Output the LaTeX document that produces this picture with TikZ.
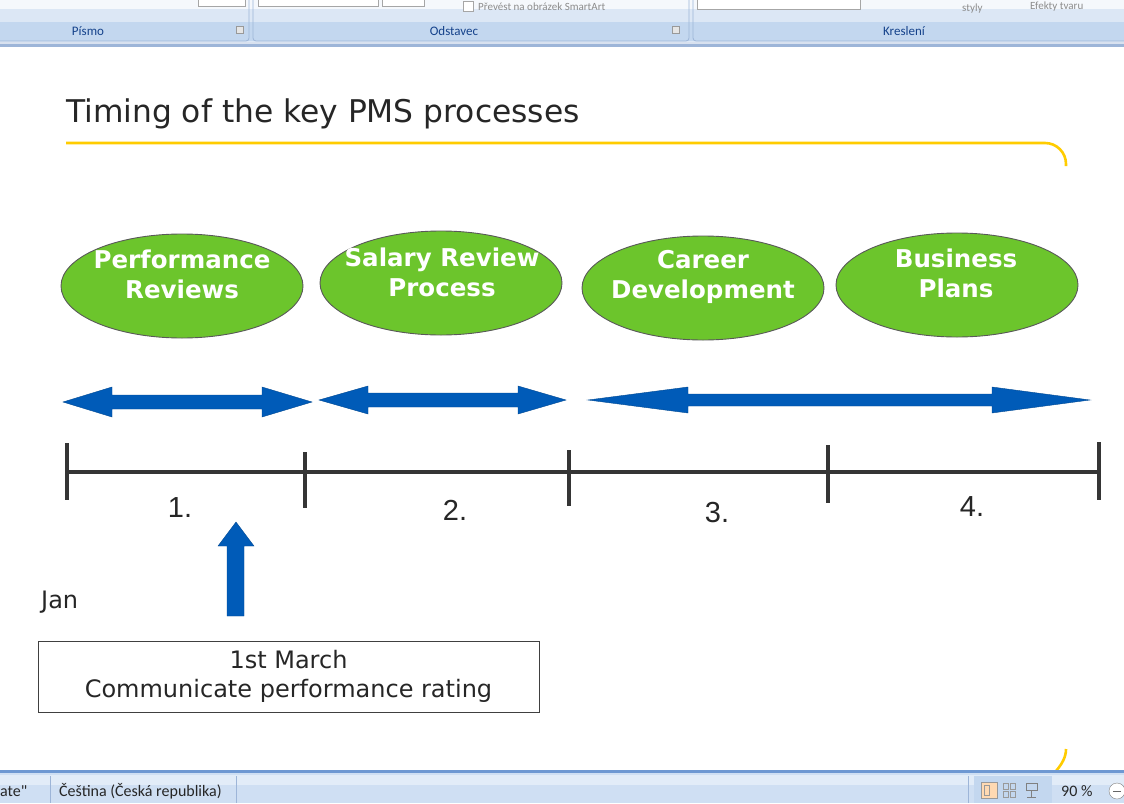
\documentclass[tikz,border=0pt]{standalone}
\usepackage{fontspec}
\setmainfont{DejaVu Sans}
\newfontfamily\arialf{Liberation Sans}
\newfontfamily\uif{Carlito}
\usetikzlibrary{shapes.geometric}

\definecolor{pmsgreen}{HTML}{6CC52C}
\definecolor{pmsblue}{HTML}{005BB8}
\definecolor{pmsgold}{HTML}{FFCC00}
\definecolor{axisgray}{HTML}{353535}
\definecolor{ribbonbody}{HTML}{DCE7F5}
\definecolor{ribbonlabel}{HTML}{C3D7EF}
\definecolor{ribbonedge}{HTML}{9DB5D8}
\definecolor{ribbontext}{HTML}{15428B}
\definecolor{statusbg}{HTML}{CFDFF3}
\definecolor{statusline}{HTML}{6E98D2}

\tikzset{
  phase/.style={ellipse, draw=black!65, line width=0.9pt, fill=pmsgreen,
    minimum width=242pt, minimum height=104pt, inner sep=0pt},
  phasetext/.style={text=white, font=\fontsize{24.5}{30}\selectfont\bfseries,
    align=center, inner sep=0pt},
  span/.style={fill=pmsblue, draw=pmsblue!80!black, line width=0.4pt},
  tick/.style={draw=axisgray, line width=3.6pt},
  axislabel/.style={font=\arialf\fontsize{29}{30}\selectfont, text=black!85, inner sep=0pt},
  notetext/.style={font=\fontsize{24}{29}\selectfont, text=black!85, align=center},
  uilabel/.style={font=\uif\fontsize{13}{14}\selectfont, text=ribbontext, inner sep=0pt},
  uicontrol/.style={font=\uif\fontsize{11}{12}\selectfont, text=black!45, anchor=west, inner sep=0pt},
  statustext/.style={font=\uif\fontsize{16}{17}\selectfont, text=black!85, inner sep=0pt, anchor=west},
}

\begin{document}
\begin{tikzpicture}[x=1pt,y=-1pt]
\useasboundingbox (0,0) rectangle (1124,803);
\fill[white] (0,0) rectangle (1124,803);

% ---- ribbon strip ----
\begin{scope}
\clip (0,0) rectangle (1124,803);
\fill[ribbonbody] (0,0) rectangle (1124,42);
\fill[white!70!ribbonbody] (0,0) rectangle (1124,9);
\fill[ribbonlabel] (0,22) rectangle (1124,41);
\foreach \a/\b in {-10/249, 253/689, 693/1136}{
  \draw[ribbonedge, line width=0.8pt, rounded corners=3pt] (\a,-10) rectangle (\b,41);
}
\fill[ribbonedge] (0,42) rectangle (1124,47);
\fill[white!60!ribbonedge] (0,42) rectangle (1124,43.5);
% control outlines in the top row
\draw[black!35, fill=white] (198,-8) rectangle (245,6);
\draw[black!35, fill=white] (258,-8) rectangle (378,6);
\draw[black!35, fill=white] (382,-8) rectangle (424,6);
\draw[black!35, fill=white] (697,-8) rectangle (860,9);
\draw[black!35, fill=white] (463,1) rectangle (473,11);
\node[uicontrol] (smartart) at (478,7) {Převést na obrázek SmartArt};
\node[uicontrol] (styly) at (962,9) {styly};
\node[uicontrol] (efekty) at (1030,7) {Efekty tvaru};
\draw[black!40, fill=black!10] (236,26) rectangle (243,33);
\draw[black!40, fill=black!10] (672,26) rectangle (679,33);
\node[uilabel] (pismo) at (88,31) {Písmo};
\node[uilabel] (odstavec) at (454,31) {Odstavec};
\node[uilabel] (kresleni) at (904,31) {Kreslení};
\end{scope}

% ---- title and gold frame line ----
\node[anchor=base west, inner sep=0pt, font=\fontsize{31.3}{34}\selectfont, text=black!85] (title) at (66,122) {Timing of the key PMS processes};
\draw[pmsgold, line width=2.6pt, rounded corners=21pt] (66,143) -- (1066,143) -- (1066,166);
\draw[pmsgold, line width=2.6pt] (1066,749) .. controls (1066,757) and (1062,764) .. (1056,771);

% ---- process ellipses ----
\node[phase] (perf) at (182,286) {};
\node[phasetext] (perft) at (182,274) {Performance\\Reviews};
\node[phase] (salary) at (441,283) {};
\node[phasetext] (salaryt) at (442,272) {Salary Review\\Process};
\node[phase] (career) at (703,288) {};
\node[phasetext] (careert) at (703,277) {Career\\Development};
\node[phase] (plans) at (957,285) {};
\node[phasetext] (planst) at (956,273) {Business\\Plans};

% ---- duration arrows ----
\fill[span] (63,402) -- (112,387) -- (112,395) -- (262,395) -- (262,387) -- (312,402)
  -- (262,417) -- (262,409) -- (112,409) -- (112,417) -- cycle;
\fill[span] (319,400) -- (368,386) -- (368,393) -- (518,393) -- (518,386) -- (566,400)
  -- (518,414) -- (518,407) -- (368,407) -- (368,414) -- cycle;
\fill[span] (588,400) -- (688,387) -- (688,394) -- (992,394) -- (992,387) -- (1090,400)
  -- (992,413) -- (992,406) -- (688,406) -- (688,413) -- cycle;

% ---- timeline ----
\coordinate (t0) at (67,472);
\coordinate (t4) at (1099,472);
\draw[tick] (t0) -- (t4);
\draw[tick] (67,443) -- (67,500);
\draw[tick] (305,452) -- (305,508);
\draw[tick] (569,450) -- (569,506);
\draw[tick] (828,445) -- (828,503);
\draw[tick] (1099,442) -- (1099,500);
\node[axislabel] (p1) at (180,508) {1.};
\node[axislabel] (p2) at (455,510) {2.};
\node[axislabel] (p3) at (717,513) {3.};
\node[axislabel] (p4) at (972,507) {4.};

% ---- milestone ----
\fill[span] (236,522) -- (254,546) -- (244,546) -- (244,616) -- (227,616) -- (227,546) -- (218,546) -- cycle;
\node[anchor=west, inner sep=0pt, font=\fontsize{24}{26}\selectfont, text=black!85] (jan) at (41,602) {Jan};
\node[draw=black!75, line width=0.9pt, minimum width=501pt, minimum height=71pt, inner sep=0pt] (note) at (288.5,676.5) {};
\node[notetext, inner sep=0pt] (notet) at (note) {1st March\\Communicate performance rating};

% ---- status bar ----
\fill[statusbg] (0,772) rectangle (1124,803);
\fill[white!40!statusbg] (0,775) rectangle (1124,785);
\fill[statusline] (0,770) rectangle (1124,773);
\draw[ribbonedge, line width=0.8pt] (50,776) -- (50,803);
\draw[ribbonedge, line width=0.8pt] (236,776) -- (236,803);
\draw[ribbonedge, line width=0.8pt] (968,776) -- (968,803);
\node[statustext] (lang0) at (0,791) {ate"};
\node[statustext] (lang) at (59,791) {Čeština (Česká republika)};
\fill[ribbonlabel] (974,776) rectangle (1052,803);
\draw[black!40, fill=orange!30] (981,782) rectangle (997,798);
\draw[black!40] (984,785) rectangle (989,795);
\draw[black!40] (1003,783) rectangle (1008,789) (1010,783) rectangle (1015,789) (1003,791) rectangle (1008,797) (1010,791) rectangle (1015,797);
\draw[black!50] (1026,783) rectangle (1037,790) (1031.5,790) -- (1031.5,797) (1027,797) -- (1036,797);
\node[statustext] (zoomlvl) at (1061,791) {90 \%};
\draw[black!50, fill=white] (1117,791) circle (8);
\draw[black!60, line width=1pt] (1113,791) -- (1121,791);
\end{tikzpicture}
\end{document}
